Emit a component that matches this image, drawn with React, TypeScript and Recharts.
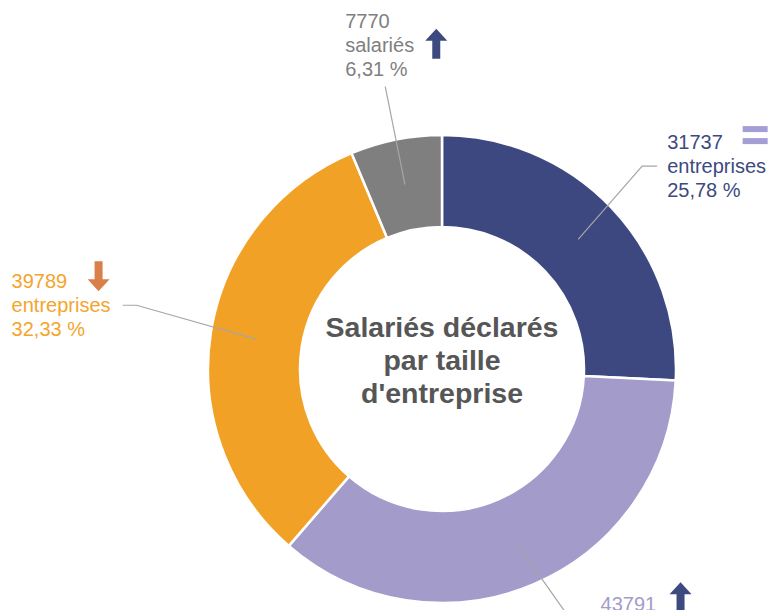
import { Pie, PieChart, Cell } from "recharts";

const values = [31737, 43791, 39789, 7770];
const units = ["entreprises", "entreprises", "entreprises", "salariés"];
const trends = ["equal", "up", "down", "up"];
const sliceColors = ["#3d4880", "#a39bca", "#f2a127", "#7f7f7f"];
const textColors = ["#3d4a80", "#a39bcb", "#f5a42c", "#7f7f7f"];
const trendColors: Record<string, string> = {
  up: "#3d4a80",
  down: "#d9804a",
  equal: "#a49ed6",
};
const titleLines = ["Salariés déclarés", "par taille", "d'entreprise"];

// leader line / label placement per slice
const labelLayout = [
  { elbowR: 285, shift: 1.8, tail: 15, mode: "right", icon: [88, -7] },
  { elbowR: 292, shift: 4.3, tail: 14, mode: "right", icon: [80, -7] },
  { elbowR: 312, shift: -2.7, tail: -14, mode: "left", icon: [87, -5] },
  { elbowR: 288, shift: 0, tail: 0, mode: "top", icon: [91, 23] },
];

const data = values.map((value, i) => ({ name: `${value} ${units[i]}`, value }));

const FONT = "'Liberation Sans', Arial, Helvetica, sans-serif";
const RAD = Math.PI / 180;
const CX = 442;
const CY = 369;

function TrendIcon({ kind, x, y }: { kind: string; x: number; y: number }) {
  const color = trendColors[kind];
  if (kind === "equal") {
    return (
      <g fill={color}>
        <rect x={x - 12.5} y={y - 9} width={25} height={6} />
        <rect x={x - 12.5} y={y + 3} width={25} height={6} />
      </g>
    );
  }
  const s = kind === "up" ? 1 : -1;
  const p = [
    [0, -15],
    [11, -3],
    [4, -3],
    [4, 15],
    [-4, 15],
    [-4, -3],
    [-11, -3],
  ]
    .map(([dx, dy]) => `${x + dx},${y + dy * s}`)
    .join(" ");
  return <polygon points={p} fill={color} />;
}

function renderLabel(props: any) {
  const { midAngle, innerRadius, outerRadius, percent, index, value } = props;
  const lay = labelLayout[index];
  const midR = (innerRadius + outerRadius) / 2;
  const sx = CX + midR * Math.cos(-midAngle * RAD);
  const sy = CY + midR * Math.sin(-midAngle * RAD);
  const ea = midAngle + lay.shift;
  const ex = CX + lay.elbowR * Math.cos(-ea * RAD);
  const ey = CY + lay.elbowR * Math.sin(-ea * RAD);
  const endX = ex + lay.tail;

  let tx: number;
  let firstY: number;
  if (lay.mode === "right") {
    tx = endX + 10;
    firstY = ey - 24;
  } else if (lay.mode === "left") {
    tx = endX - 10 - 101;
    firstY = ey - 24;
  } else {
    tx = ex - 40;
    firstY = ey - 66;
  }
  const pct = (percent * 100).toFixed(2).replace(".", ",") + " %";
  const lines = [String(value), units[index], pct];

  return (
    <g key={`lbl-${index}`}>
      <polyline
        points={`${sx},${sy} ${ex},${ey} ${endX},${ey}`}
        fill="none"
        stroke="#a6a6a6"
        strokeWidth={1.2}
      />
      <text fontFamily={FONT} fontSize={20} fill={textColors[index]}>
        {lines.map((t, i) => (
          <tspan key={i} x={tx} y={firstY + i * 24 + 7}>
            {t}
          </tspan>
        ))}
      </text>
      <TrendIcon kind={trends[index]} x={tx + lay.icon[0]} y={firstY + lay.icon[1]} />
    </g>
  );
}

export default function App() {
  return (
    <div
      style={{
        position: "absolute",
        left: 0,
        top: 0,
        width: 770,
        height: 610,
        overflow: "hidden",
        background: "#fff",
      }}
    >
      <PieChart width={770} height={610} margin={{ top: 0, right: 0, bottom: 0, left: 0 }}>
        <Pie
          data={data}
          dataKey="value"
          nameKey="name"
          cx={CX}
          cy={CY}
          innerRadius={142}
          outerRadius={234}
          startAngle={90}
          endAngle={-270}
          stroke="#ffffff"
          strokeWidth={2.5}
          label={renderLabel}
          labelLine={false}
          isAnimationActive={false}
        >
          {data.map((d, i) => (
            <Cell key={d.name} fill={sliceColors[i]} />
          ))}
        </Pie>
      </PieChart>
      <svg
        width={770}
        height={610}
        style={{ position: "absolute", left: 0, top: 0, pointerEvents: "none" }}
      >
        <text
          fontFamily={FONT}
          fontSize={28.5}
          fontWeight="bold"
          fill="#565656"
          textAnchor="middle"
        >
          {titleLines.map((t, i) => (
            <tspan key={i} x={CX} y={337 + i * 33}>
              {t}
            </tspan>
          ))}
        </text>
      </svg>
    </div>
  );
}
